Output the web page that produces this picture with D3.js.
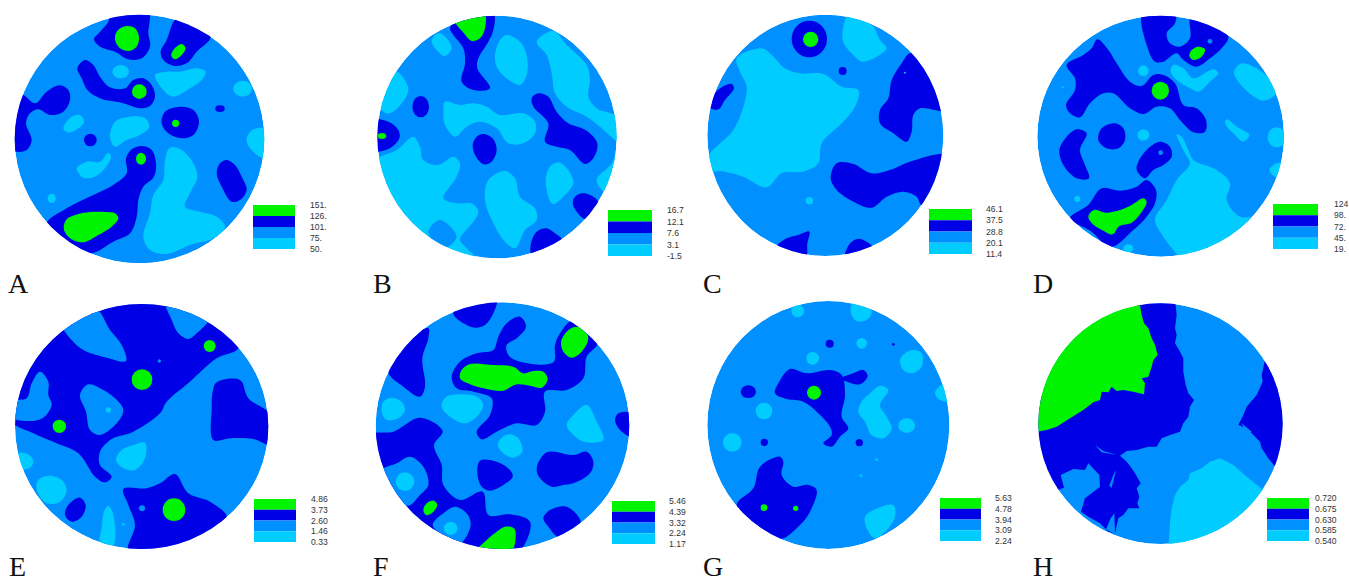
<!DOCTYPE html>
<html><head><meta charset="utf-8">
<script src="https://cdn.jsdelivr.net/npm/d3@7"></script>
<style>html,body{margin:0;padding:0;background:#fff;overflow:hidden}svg{display:block}</style>
</head><body><svg id="c" width="1349" height="582"></svg>
<script>
// Contour regions, in net units. A numeric triple/quad is a spot [x,y,r] or [x,y,rx,ry]; anything else is an outline.
const panelNames=["A","B","C","D","E","F","G","H"];
const legendA=["151.","126.","101.","75.","50."];
const legendB=["16.7","12.1","7.6","3.1","-1.5"];
const legendC=["46.1","37.5","28.8","20.1","11.4"];
const legendD=["124","98.","72.","45.","19."];
const legendE=["4.86","3.73","2.60","1.46","0.33"];
const legendF=["5.46","4.39","3.32","2.24","1.17"];
const legendG=["5.63","4.78","3.94","3.09","2.24"];
const legendH=["0.720","0.675","0.630","0.585","0.540"];

const A_light=[[362,215,25,20],
[[465,225],[500,215],[540,215],[590,205],[617,215],[605,240],[575,262],[520,290],[490,270]],
[728,266,28,24],
[[345,365],[390,350],[435,355],[448,380],[420,405],[380,420],[345,440],[330,410]],
[[190,385],[215,350],[240,345],[252,365],[235,385],[205,398]],
[[810,390],[760,388],[740,415],[750,445],[790,475],[815,470]],
[[230,505],[260,485],[300,485],[325,458],[333,470],[315,505],[285,530],[250,533]],
[155,595,12,14],
[[510,443],[545,450],[580,490],[592,530],[570,580],[555,620],[600,635],[650,650],[675,680],[640,715],[570,735],[500,762],[450,750],[430,710],[450,640],[460,585],[490,540],[495,480]]];
const A_dark=[[[335,30],[445,30],[445,100],[450,140],[425,175],[385,178],[345,155],[300,140],[282,118],[300,95],[325,65]],
[[530,55],[580,70],[632,110],[590,155],[560,190],[520,197],[490,180],[482,155],[500,120]],
[[255,180],[280,195],[300,230],[330,262],[375,265],[400,240],[430,235],[455,255],[465,290],[450,318],[420,325],[370,310],[300,295],[262,270],[245,235],[232,205]],
[[40,285],[70,285],[105,310],[140,275],[180,256],[205,270],[210,300],[190,335],[150,345],[115,328],[90,340],[78,370],[95,420],[80,450],[50,455],[25,440],[25,300]],
[[540,320],[580,330],[597,365],[580,405],[545,415],[505,400],[485,370],[495,335]],
[271,420,19],[660,326,14,10],
[[425,438],[455,450],[468,490],[462,530],[430,560],[415,600],[410,650],[390,700],[340,725],[270,760],[200,725],[140,672],[200,625],[280,585],[340,555],[380,520],[378,475],[395,448]],
[[680,480],[705,495],[725,530],[740,570],[720,600],[695,605],[665,560],[650,520],[660,490]]];
const A_green=[[[380,78],[405,85],[417,112],[410,140],[385,153],[358,143],[345,118],[352,92]],
[[545,132],[557,145],[545,165],[525,178],[514,168],[520,150]],
[418,275,22],[527,370,11],[423,476,15,18],
[[225,645],[270,636],[320,636],[345,640],[355,655],[335,680],[295,705],[250,727],[215,718],[192,690],[198,660]]];

const B_light=[[[240,100],[260,115],[275,145],[255,168],[235,155],[215,125],[225,105]],
[[440,105],[480,125],[500,165],[500,225],[480,255],[440,235],[410,200],[405,165],[420,120]],
[[580,92],[620,135],[680,195],[690,240],[685,290],[710,325],[780,355],[785,430],[720,380],[680,350],[620,320],[585,280],[575,220],[560,165],[530,125]],
[[780,420],[755,490],[710,540],[735,575],[785,540]],
[[110,215],[145,265],[125,310],[90,340],[70,335],[50,300],[85,250]],
[[255,305],[300,315],[340,310],[380,320],[420,345],[490,340],[525,365],[525,400],[490,430],[445,430],[410,385],[360,365],[320,380],[285,410],[255,375],[250,340]],
[[40,480],[110,450],[160,410],[180,440],[190,480],[235,495],[280,470],[300,490],[290,530],[250,595],[290,610],[335,610],[355,635],[340,665],[310,700],[300,720],[355,785],[200,770],[60,620],[30,500]],
[[435,513],[465,535],[480,590],[525,625],[530,660],[495,690],[465,745],[430,720],[400,670],[375,600],[385,540]],
[[595,487],[625,510],[640,550],[610,590],[578,612],[560,570],[558,530],[570,500]]];
const B_dark=[[[270,85],[290,60],[400,40],[400,90],[385,125],[355,175],[352,205],[390,265],[340,270],[305,245],[315,190],[310,145],[280,105]],
[182,320,25,32],
[[30,360],[85,365],[115,390],[118,415],[90,445],[55,455],[30,455]],
[[370,402],[398,415],[410,450],[395,485],[372,493],[348,470],[338,435],[350,410]],
[[535,280],[565,290],[590,335],[625,370],[680,392],[712,430],[700,475],[675,492],[630,450],[590,440],[555,425],[565,370],[520,320],[515,295]],
[[665,580],[690,585],[715,607],[680,658],[650,635],[638,610],[645,590]],
[[560,685],[585,700],[605,718],[560,745],[515,765],[513,730],[530,695]]];
const B_mid=[[[240,660],[290,710],[250,745],[205,695]]];
const B_green=[[[285,60],[372,40],[375,85],[360,115],[335,123],[312,100]],[66,408,13,9]];

const C_light=[[[475,45],[505,50],[550,80],[570,120],[590,145],[560,170],[515,185],[490,165],[458,120]],
[[140,175],[215,145],[245,165],[285,205],[330,220],[400,222],[455,260],[505,270],[495,320],[455,370],[395,430],[385,490],[340,515],[275,520],[230,562],[160,530],[105,515],[60,510],[55,470],[130,390],[160,320],[170,260],[150,215]],
[358,602,11]];
const C_dark=[[358,117,53,55],[458,213,12],
[[125,252],[132,265],[105,300],[85,328],[55,320],[70,285],[95,262]],
[[660,160],[710,180],[775,330],[690,325],[670,345],[665,395],[650,425],[610,400],[570,370],[570,330],[595,295],[605,240],[635,190]],
[[440,490],[490,492],[545,520],[600,510],[660,485],[775,465],[790,520],[695,615],[680,590],[640,575],[590,590],[545,623],[490,605],[440,570],[422,535]],
[[260,742],[290,715],[325,705],[358,695],[352,730],[347,775],[300,770]],
[[505,716],[530,725],[550,745],[465,775],[480,730]]];
const C_top=[[645,218,3]];
const C_green=[[362,118,23]];

const D_light=[[370,212,16],
[[460,195],[490,205],[520,235],[580,208],[595,220],[570,245],[535,275],[510,265],[470,240],[452,215]],
[[665,190],[710,205],[750,240],[768,280],[730,302],[695,285],[655,245],[642,215]],
[[620,358],[650,380],[688,405],[670,425],[645,405],[615,370]],
[770,412,27,30],
[[800,488],[765,492],[748,510],[765,530],[800,525]],
[128,262,3],[370,405,18,17],[172,597,9],[325,745,15,12],
[[470,402],[485,410],[505,450],[520,480],[590,510],[630,550],[620,600],[660,650],[715,652],[640,715],[490,775],[460,750],[430,710],[405,660],[440,600],[470,540],[510,490],[495,460]]];
const D_dark=[[[368,35],[465,35],[465,70],[440,100],[450,130],[480,140],[510,115],[512,50],[570,65],[625,110],[605,145],[570,175],[530,200],[490,180],[470,160],[430,185],[405,185],[385,150]],
[[232,118],[265,150],[290,190],[330,245],[365,258],[400,225],[430,225],[465,250],[490,315],[530,325],[558,360],[555,395],[520,397],[480,360],[450,325],[410,320],[370,342],[330,325],[280,280],[250,280],[210,310],[180,352],[150,340],[138,315],[165,270],[165,235],[140,195],[190,165],[215,145]],
[[285,370],[310,385],[315,420],[295,445],[260,445],[235,420],[245,385]],
[[170,388],[200,400],[180,450],[195,495],[207,535],[170,535],[130,495],[118,450],[140,410]],
[[420,425],[450,440],[455,470],[430,495],[400,510],[375,535],[350,510],[355,485],[385,445]],
[[380,540],[408,570],[405,610],[380,650],[340,690],[270,742],[215,695],[150,655],[205,615],[245,565],[300,572],[350,560]]];
const D_mid=[[570,124,7],[422,458,7]];
const D_green=[[[535,140],[555,148],[545,170],[520,180],[508,168],[515,150]],
[421,272,26,27],
[[370,595],[380,605],[362,640],[335,668],[298,678],[278,703],[250,692],[218,672],[205,650],[222,630],[258,638],[300,630],[335,615]]];

const E_dark=[[[30,375],[100,415],[170,445],[235,475],[285,545],[315,562],[335,545],[300,510],[300,470],[335,432],[400,410],[480,355],[500,320],[570,260],[650,190],[715,160],[700,90],[500,0],[200,40],[20,250]],
[[650,262],[720,255],[745,310],[810,358],[815,450],[760,432],[690,430],[640,435],[635,340],[638,290]],
[[370,582],[440,580],[480,565],[525,537],[565,595],[630,620],[680,665],[640,700],[500,770],[385,770],[405,690],[385,630]],
[[240,608],[257,630],[245,665],[215,680],[195,660],[205,630]]];
const E_mid=[[[190,92],[285,40],[330,105],[365,150],[378,198],[320,188],[250,165],[215,135]],
[[495,15],[625,70],[590,115],[565,132],[535,115],[515,75]],
[[120,230],[145,260],[145,300],[155,330],[130,368],[90,378],[30,365],[30,320],[80,310],[95,265]],
[[265,268],[310,285],[345,310],[370,345],[350,385],[300,420],[270,405],[258,350],[240,300]],
[426,640,9],[478,198,5]];
const E_light=[[[435,443],[435,490],[405,525],[370,520],[348,495],[365,465],[400,450]],
[[50,475],[85,478],[100,500],[85,522],[50,515]],
[[145,542],[185,555],[200,585],[180,620],[140,625],[110,585],[115,555]],
[[325,632],[340,660],[340,750],[300,740],[305,700],[312,650]],
[370,688,4]];
const E_top=[[325,345,8]];
const E_green=[[426,254,31],[629,153,18],[178,394,20],[522,644,34]];

const F_light=[[[95,308],[125,320],[135,345],[115,370],[80,375],[65,350],[70,320]],
[[260,305],[350,305],[370,330],[350,365],[315,385],[280,372],[245,335]],
[[680,330],[710,380],[730,435],[670,440],[635,415],[620,390],[640,360]],
[[450,418],[475,430],[487,470],[460,488],[430,475],[413,450],[425,428]]];
const F_dark=[[[280,55],[330,15],[410,10],[400,55],[375,90],[345,98],[310,85]],
[[205,100],[205,130],[187,190],[195,275],[180,305],[130,275],[85,232],[120,150]],
[[480,65],[498,95],[470,130],[440,150],[445,180],[480,200],[580,202],[585,150],[600,115],[640,75],[712,145],[680,185],[670,250],[620,285],[555,290],[555,350],[530,390],[470,385],[410,410],[365,433],[350,410],[390,360],[395,310],[340,290],[290,280],[275,245],[300,200],[350,175],[400,165],[415,125],[440,85]],
[[30,420],[100,410],[180,368],[248,408],[222,450],[245,510],[250,570],[300,615],[368,590],[385,660],[450,658],[510,680],[490,755],[450,790],[300,770],[100,640],[40,520]],
[[815,355],[775,355],[765,375],[780,405],[815,425]],
[[360,497],[410,500],[450,525],[458,545],[430,570],[390,587],[365,575],[352,535]],
[[560,472],[640,480],[680,470],[700,500],[690,535],[640,565],[610,570],[575,575],[540,550],[530,520]],
[[570,645],[620,635],[662,682],[600,728],[565,695],[550,670]]];
const F_mid=[[[60,530],[110,505],[150,485],[190,515],[205,570],[180,600],[145,632],[90,600]],
[[285,635],[320,655],[332,690],[300,745],[250,720],[218,690],[250,655]]];
const F_top=[[135,560,28,28],[272,700,20,20]];
const F_green=[[[640,97],[668,100],[685,130],[665,170],[635,188],[610,170],[603,140],[620,110]],
[[330,207],[400,210],[460,215],[490,235],[520,228],[550,230],[563,252],[545,278],[510,272],[470,268],[430,287],[380,282],[330,268],[300,250],[305,225]],
[[222,617],[232,630],[215,655],[198,660],[190,645],[200,625]],
[[435,695],[462,700],[467,725],[450,775],[345,775],[380,735],[410,710]]];

const G_light=[[323,48,19,19],
[[510,25],[545,50],[530,75],[500,78],[482,50],[490,20]],
[515,145,16],[368,190,19],
[[670,165],[695,175],[695,215],[665,235],[640,225],[630,195],[645,175]],
[[785,268],[750,272],[735,295],[750,315],[785,318]],
[[570,272],[595,285],[570,330],[590,365],[605,400],[580,430],[545,420],[525,380],[505,350],[515,320],[540,295]],
[650,392,25,22],[222,348,25,25],[127,442,28,28],[560,494,4],[513,542,4],
[[610,630],[615,665],[590,705],[555,730],[530,700],[525,665],[550,645]]];
const G_dark=[[[300,222],[350,235],[420,225],[455,240],[465,300],[455,365],[475,400],[450,425],[425,455],[400,445],[425,420],[420,395],[380,350],[340,320],[290,312],[255,295],[265,265]],
[[455,250],[490,235],[520,225],[533,243],[510,268],[475,262]],
[175,290,23,19],[419,146,12],[223,442,11],[508,443,11],[610,148,4],
[[270,485],[280,500],[275,540],[310,575],[355,570],[380,585],[360,650],[330,690],[270,732],[200,690],[140,630],[190,580],[210,515]]];
const G_green=[[372,293,21],[222,638,10],[317,640,8]];

const H_light=[[[445,760],[450,680],[455,640],[465,600],[480,575],[505,555],[510,535],[545,520],[570,500],[600,490],[640,510],[680,545],[730,585],[650,720]]];
const H_dark=[[[358,10],[465,10],[470,60],[465,100],[470,120],[465,145],[480,170],[490,190],[490,230],[497,270],[505,295],[522,315],[510,335],[505,365],[490,385],[480,410],[450,420],[425,430],[410,455],[385,455],[350,465],[320,468],[300,482],[320,500],[335,520],[345,535],[362,565],[350,580],[358,605],[352,625],[358,640],[325,640],[310,660],[295,670],[285,715],[265,710],[240,685],[205,665],[183,650],[195,610],[240,575],[238,540],[215,515],[205,505],[195,525],[160,522],[122,540],[132,578],[100,590],[30,420],[60,300],[300,200]],
[[735,195],[725,240],[728,260],[710,300],[680,335],[670,360],[655,390],[680,400],[700,420],[720,440],[725,460],[745,490],[768,518],[810,400],[790,280]]];
const H_mid=[[[665,385],[695,410],[690,415],[670,395]],[[288,525],[275,578],[268,572],[280,540]],[[283,655],[285,718],[258,703],[272,670]],[[225,450],[250,468],[290,480],[245,472]]];
const H_green=[[[358,20],[365,60],[372,85],[385,100],[395,130],[405,150],[413,180],[400,195],[395,215],[385,245],[365,250],[375,265],[372,298],[340,290],[310,285],[290,288],[275,275],[265,292],[245,290],[240,315],[220,322],[190,345],[150,370],[110,395],[80,405],[50,410],[20,300],[150,90],[300,10]]];

const colors={green:"#00f400",dark:"#0000e6",mid:"#0090ff",light:"#00ccff"};
const bandOrder=["green","dark","mid","light"];
// crop origin of the net units, net bounds in those units
const frames=[
 {o:[0,0],b:[44,793,44,790],reg:[A_light,A_dark,[],[],A_green],leg:legendA,box:[253,295,205,249],lx:310,let:[8,293]},
 {o:[360,0],b:[52,770,47,775],reg:[B_light,B_dark,B_mid,[],B_green],leg:legendB,box:[608,652,210,256],lx:667,let:[373,293]},
 {o:[690,0],b:[52,760,44,768],reg:[C_light,C_dark,[],C_top,C_green],leg:legendC,box:[929,972,209,254],lx:986,let:[703,293]},
 {o:[1020,0],b:[52,792,47,770],reg:[D_light,D_dark,D_mid,[],D_green],leg:legendD,box:[1273,1318,204,249],lx:1334,let:[1033,293]},
 {o:[0,295],b:[45,805,27,762],reg:[E_dark,E_mid,E_light,E_top,E_green],order:["dark","mid","light","light","green"],leg:legendE,box:[254,296,499,542],lx:311,let:[9,575.5]},
 {o:[360,295],b:[47,808,22,762],reg:[F_light,F_dark,F_mid,F_top,F_green],leg:legendF,box:[612,655,501,544],lx:669,let:[373,575.5]},
 {o:[690,295],b:[52,778,18,762],reg:[G_light,G_dark,[],[],G_green],leg:legendG,box:[940,981,498,541],lx:995,let:[703,575.5]},
 {o:[1020,295],b:[55,788,25,747],reg:[H_light,H_dark,H_mid,[],H_green],leg:legendH,box:[1267,1309,498,541],lx:1315,let:[1033,575.5],rough:true}
];
const svg=d3.select("#c");
const soft=svg.append("defs").append("filter").attr("id","soft").attr("x","-5%").attr("y","-5%").attr("width","110%").attr("height","110%");
soft.append("feGaussianBlur").attr("stdDeviation",0.55);
const defaultOrder=["light","dark","mid","light","green"];
frames.forEach((f,i)=>{
  const [x0,x1,y0,y1]=f.b;
  const x=d3.scaleLinear().domain([x0,x1]).range([f.o[0]+x0/3,f.o[0]+x1/3]);
  const y=d3.scaleLinear().domain([y0,y1]).range([f.o[1]+y0/3,f.o[1]+y1/3]);
  const outer=svg.append("g").attr("filter","url(#soft)");
  const g=outer.append("g").attr("class","net");
  const cx=x((x0+x1)/2),cy=y((y0+y1)/2),rx=(x(x1)-x(x0))/2,ry=(y(y1)-y(y0))/2;
  svg.append("clipPath").attr("id","clip"+i).append("ellipse").attr("cx",cx).attr("cy",cy).attr("rx",rx).attr("ry",ry);
  g.attr("clip-path",`url(#clip${i})`);
  g.append("ellipse").attr("cx",cx).attr("cy",cy).attr("rx",rx).attr("ry",ry).attr("fill",colors.mid);
  const line=d3.line().x(d=>x(d[0])).y(d=>y(d[1])).curve(f.rough?d3.curveLinear:d3.curveCatmullRomClosed.alpha(0.5));
  (f.order||defaultOrder).forEach((key,k)=>{
    f.reg[k].forEach(r=>{
      if(typeof r[0]==="number"){
        const ax=r[2],ay=r.length>3?r[3]:r[2];
        g.append("ellipse").attr("cx",x(r[0])).attr("cy",y(r[1])).attr("rx",x(r[0]+ax)-x(r[0])).attr("ry",y(r[1]+ay)-y(r[1])).attr("fill",colors[key]);
      } else {
        g.append("path").attr("d",line(r)+(f.rough?"Z":"")).attr("fill",colors[key]);
      }
    });
  });
  // legend
  const [bx0,bx1,by0,by1]=f.box;
  const band=d3.scaleBand().domain(bandOrder).range([by0,by1]);
  const lg=svg.append("g").attr("class","legend");
  lg.append("g").attr("filter","url(#soft)").selectAll("rect").data(bandOrder).join("rect").attr("x",bx0).attr("width",bx1-bx0).attr("y",d=>band(d)).attr("height",band.bandwidth()).attr("fill",d=>colors[d]);
  const ly=d3.scalePoint().domain(d3.range(5)).range([by0,by1]);
  lg.selectAll("text").data(f.leg).join("text").attr("x",f.lx).attr("y",(d,j)=>ly(j)+3.2).text(d=>d)
    .attr("font-family","'Liberation Sans',Arial,sans-serif").attr("font-size",8.6).attr("fill","#333");
  svg.append("text").attr("x",f.let[0]).attr("y",f.let[1]).text(panelNames[i])
    .attr("font-family","'Liberation Serif','Times New Roman',serif").attr("font-size",28).attr("fill","#111");
});
</script></body></html>
